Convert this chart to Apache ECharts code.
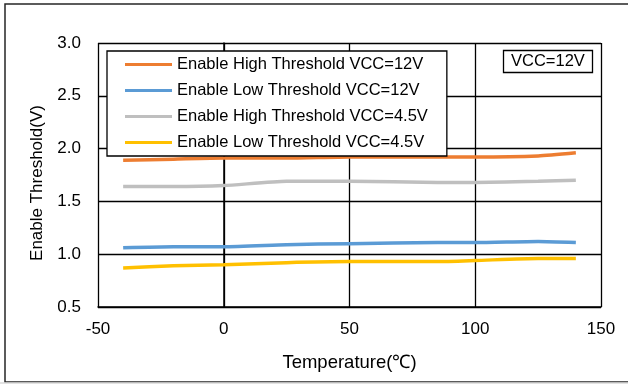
<!DOCTYPE html>
<html><head><meta charset="utf-8">
<script src="https://cdn.jsdelivr.net/npm/echarts@6/dist/echarts.min.js"></script>
<style>html,body{margin:0;padding:0;background:#fff}#c{width:628px;height:385px}</style>
</head><body><div id="c"></div>
<script>
const temps = [-40, -20, 0, 25, 50, 85, 100, 125, 140];
const highVcc12 = [1.89, 1.90, 1.91, 1.91, 1.92, 1.92, 1.92, 1.93, 1.96];
const lowVcc12 = [1.06, 1.07, 1.07, 1.09, 1.10, 1.11, 1.11, 1.12, 1.11];
const highVcc45 = [1.64, 1.64, 1.65, 1.69, 1.69, 1.68, 1.68, 1.69, 1.70];
const lowVcc45 = [0.87, 0.89, 0.90, 0.92, 0.93, 0.93, 0.94, 0.96, 0.96];
const seriesNames = ['Enable High Threshold VCC=12V','Enable Low Threshold VCC=12V','Enable High Threshold VCC=4.5V','Enable Low Threshold VCC=4.5V'];
const colors = ['#ED7D31','#5B9BD5','#BFBFBF','#FFC000'];
const xTicks = [-50, 0, 50, 100, 150];
const yTicks = [0.5, 1.0, 1.5, 2.0, 2.5, 3.0];
const font = 'Liberation Sans, Arial, sans-serif';
const allVals = [highVcc12, lowVcc12, highVcc45, lowVcc45];
const chart = echarts.init(document.getElementById('c'), null, {renderer:'canvas'});
chart.setOption({
  animation:false,
  backgroundColor:'#fff',
  grid:{left:98,right:27,top:43,bottom:78,containLabel:false},
  graphic:[
    {type:'rect',shape:{x:5,y:4,width:700,height:378},style:{fill:'none',stroke:'#262626',lineWidth:1.5},z:-10},
    {type:'line',shape:{x1:0,y1:383,x2:628,y2:383},style:{stroke:'#d9d9d9',lineWidth:1.5},z:-9}
  ],
  title:{text:'VCC=12V',left:503,top:50,padding:[3,8,3,8],borderColor:'#000',borderWidth:1.3,backgroundColor:'#fff',
    textStyle:{fontFamily:font,fontSize:16.5,fontWeight:'normal',color:'#000'}},
  legend:{orient:'vertical',left:107,top:51,padding:[5,19,5,18],itemGap:9,itemWidth:47,itemHeight:3,icon:'rect',
    backgroundColor:'#fff',borderColor:'#000',borderWidth:1.3,borderRadius:0,
    textStyle:{fontFamily:font,fontSize:16.5,color:'#000',padding:[0,0,0,0]},
    data:seriesNames},
  xAxis:{type:'value',min:-50,max:150,interval:50,
    name:'Temperature(℃)',nameLocation:'middle',nameGap:46,
    nameTextStyle:{fontFamily:font,fontSize:18.5,color:'#000'},
    axisLine:{show:true,lineStyle:{color:'#000',width:1.5}},axisTick:{show:false},
    axisLabel:{margin:14,fontFamily:font,fontSize:17,color:'#000',formatter:v=>xTicks.includes(v)?String(v):''},
    splitLine:{show:true,lineStyle:{color:'#000',width:1.3}}},
  yAxis:{type:'value',min:0.5,max:3.0,interval:0.5,
    name:'Enable Threshold(V)',nameLocation:'middle',nameGap:52,
    nameTextStyle:{fontFamily:font,fontSize:17,color:'#000',padding:[0,16,0,0]},
    axisLine:{show:true,lineStyle:{color:'#000',width:1.5}},axisTick:{show:false},
    axisLabel:{margin:17,fontFamily:font,fontSize:17,color:'#000',formatter:v=>yTicks.some(t=>Math.abs(t-v)<1e-9)?v.toFixed(1):''},
    splitLine:{show:true,lineStyle:{color:'#000',width:1.3}}},
  series: seriesNames.map((n,i)=>({
    name:n,type:'line',smooth:0.2,symbol:'none',
    data:temps.map((t,j)=>[t,allVals[i][j]]),
    lineStyle:{color:colors[i],width:3.5},itemStyle:{color:colors[i]},z:3
  }))
});
</script></body></html>
